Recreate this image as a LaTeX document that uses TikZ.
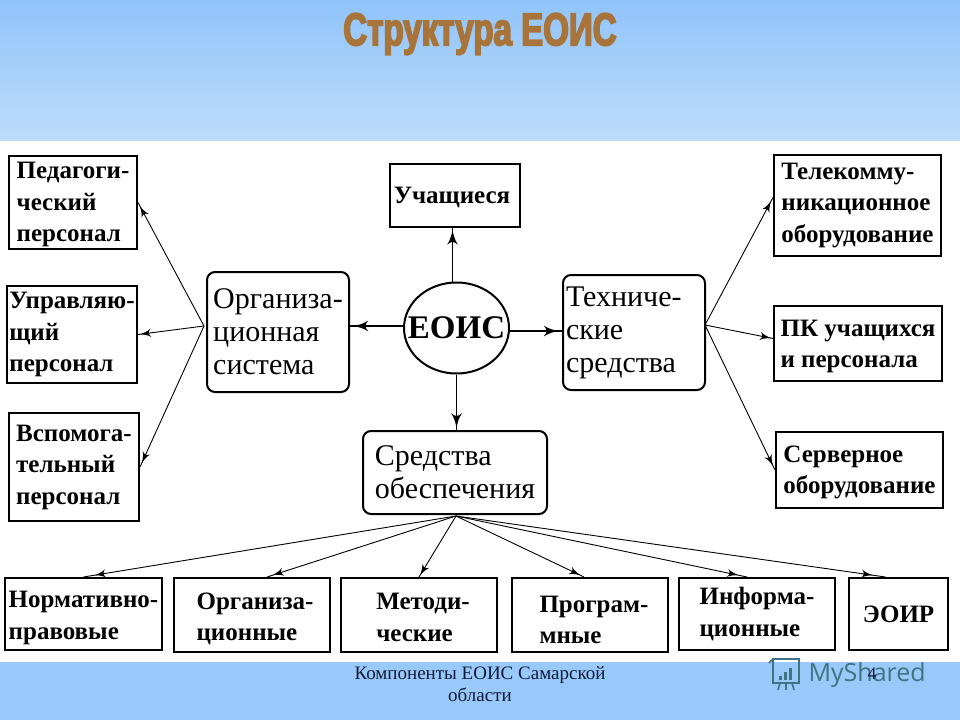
\documentclass[tikz,border=0pt]{standalone}
\usepackage{fontspec}
\usepackage{tikz}
\setmainfont{Liberation Serif}
\newfontfamily\titlefont[FakeStretch=0.72,FakeBold=3.5]{Liberation Sans Bold}
\newfontfamily\logofont{Open Sans}
\usetikzlibrary{arrows}
\usetikzlibrary{decorations.markings}
\usetikzlibrary{positioning}
\usetikzlibrary{shapes.geometric}
\definecolor{bandtop}{HTML}{90C4FA}
\definecolor{bandlow}{HTML}{BEDCFB}
\definecolor{bandfoot}{HTML}{99C9FA}
\definecolor{titlebrown}{HTML}{A8743A}
\definecolor{footnavy}{HTML}{101A3A}
\definecolor{logoteal}{HTML}{3F7482}
\tikzset{->-/.style = {decoration={markings,
                                   mark=at position #1 with {\arrow[scale=2]{latex'}}},
                       postaction={decorate}}}
\tikzset{box/.style = {draw, line width=2, inner sep=0, align=left}}
\tikzset{rbox/.style = {box, rounded corners=8}}
\tikzset{txtb/.style = {font=\fontsize{25}{31.5}\selectfont\bfseries}}
\tikzset{txtr/.style = {font=\fontsize{30}{33}\selectfont}}
\tikzset{thin arrow/.style = {line width=0.9}}
\tikzset{main arrow/.style = {line width=1.5}}
\newcommand{\dn}[1]{\rule{0pt}{#1pt}}

\begin{document}
\begin{tikzpicture}[x=1pt, y=-1pt]
    \useasboundingbox (0, 0) rectangle (960, 720);
    \shade [top color=bandtop, bottom color=bandlow] (0, 0) rectangle (960, 140);
    \fill [bandfoot] (0, 662) rectangle (960, 720);

    \node [text=titlebrown, font=\fontsize{46}{46}\selectfont\titlefont] (title) at (480, 34) {Структура ЕОИС};

    % left column
    \node [box, txtb, minimum width=128, minimum height=93] (ped) at (73, 202.5) {\dn{21}Педагоги-\\ческий\\персонал};
    \node [box, txtb, minimum width=130, minimum height=97] (upr) at (72, 334.5) {Управляю-\\щий\\персонал};
    \node [box, txtb, minimum width=130, minimum height=108] (vsp) at (74, 467) {Вспомога-\\тельный\\персонал};
    \node [rbox, txtr, minimum width=142, minimum height=120] (org) at (278, 332) {Организа-\\ционная\\система};

    % centre
    \node [box, txtb, minimum width=130, minimum height=63] (uch) at (455, 195.5) {\dn{21}Учащиеся\hspace*{6pt}};
    \node [draw, line width=2, ellipse, inner sep=0, minimum width=105, minimum height=91,
           font=\fontsize{33}{33}\selectfont\bfseries] (eois) at (456.5, 328) {\makebox[0pt]{ЕОИС}};
    \node [rbox, txtr, minimum width=184, minimum height=83] (sred) at (455, 472.5) {Средства\\обеспечения};

    % right column
    \node [rbox, txtr, minimum width=142, minimum height=115, text width=136] (tech) at (634, 332.5) {Техниче-\\ские\\средства};
    \node [box, txtb, minimum width=167, minimum height=101] (tele) at (857.5, 205.5) {Телекомму-\\никационное\\оборудование};
    \node [box, txtb, minimum width=168, minimum height=75] (pk) at (858, 343.5) {\dn{22}ПК учащихся\\и персонала};
    \node [box, txtb, minimum width=167, minimum height=76] (serv) at (859.5, 470) {\dn{21}Серверное\\оборудование};

    % bottom row
    \node [box, txtb, minimum width=157, minimum height=72] (norm) at (83.5, 614) {\dn{24}Нормативно-\\правовые};
    \node [box, txtb, minimum width=156, minimum height=74] (orgs) at (252, 615) {\dn{24}\hspace*{6pt}Организа-\\\hspace*{6pt}ционные};
    \node [box, txtb, minimum width=156, minimum height=74] (met) at (419, 615) {\dn{21}\hspace*{8pt}Методи-\\\hspace*{8pt}ческие};
    \node [box, txtb, minimum width=156, minimum height=74] (prog) at (590, 615) {\dn{26}\hspace*{8pt}Програм-\\\hspace*{8pt}мные};
    \node [box, txtb, minimum width=156, minimum height=72] (inf) at (757, 614) {Информа-\\ционные};
    \node [box, txtb, minimum width=99, minimum height=72] (eoir) at (898.5, 614) {ЭОИР};

    \coordinate (orgfan) at (204, 326);
    \coordinate (techfan) at (705, 325);
    \coordinate (sredfan) at (456, 516);

    \draw [main arrow, ->-=0.96] ([xshift=-4]eois.north) -- ([xshift=-4]eois.north |- uch.south);
    \draw [main arrow, ->-=0.93] ([yshift=2]eois.west) -- ([yshift=2]eois.west -| org.east);
    \draw [main arrow, ->-=0.93] ([yshift=-3]eois.east) -- ([yshift=-3]eois.east -| tech.west);
    \draw [main arrow, ->-=0.96] (eois.south) -- (eois.south |- sred.north);

    \foreach \n in {ped, upr, vsp} {
      \draw [thin arrow, ->-=0.97] (orgfan) -- (\n.east);
    }
    \draw [thin arrow, ->-=0.97] (techfan) -- ([yshift=8]tele.west);
    \draw [thin arrow, ->-=0.97] (techfan) -- ([yshift=5]pk.west);
    \draw [thin arrow, ->-=0.97] (techfan) -- (serv.west);

    \foreach \n/\dx in {norm/0, orgs/15, met/0, prog/-6, inf/-10, eoir/-13} {
      \draw [thin arrow, ->-=0.97] (sredfan) -- ([xshift=\dx]\n.north);
    }

    % footer
    \node [text=footnavy, align=center, font=\fontsize{19}{22}\selectfont] (foot) at (480, 684) {Компоненты ЕОИС Самарской\\области};
    \node [text=logoteal, font=\fontsize{25}{25}\selectfont\logofont, anchor=west] (logo) at (805, 675) {MyShared};
    \node [text=footnavy, font=\fontsize{17.5}{22}\selectfont] (page) at (872, 674) {4};

    % logo icon
    \begin{scope}[logoteal, line width=1.6]
      \draw (773, 659) rectangle (799, 683);
      \draw (769, 663) -- (773, 659) -- (800, 659);
      \fill (779, 676) rectangle (782, 680);
      \fill (784, 672) rectangle (787, 680);
      \fill (789, 668) rectangle (792, 680);
      \draw (780, 683) -- (778, 690);
      \draw (786, 683) -- (786, 690);
      \draw (792, 683) -- (794, 690);
    \end{scope}
\end{tikzpicture}
\end{document}
